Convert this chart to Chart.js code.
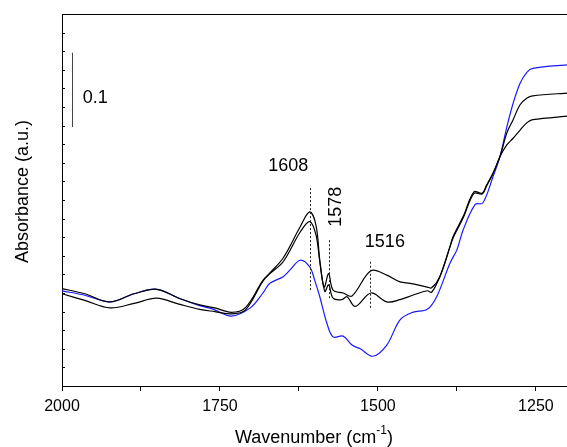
<!DOCTYPE html>
<html>
<head>
<meta charset="utf-8">
<script src="https://cdn.jsdelivr.net/npm/chart.js@4"></script>
<style>
    html, body { margin: 0; padding: 0; background: #fff; overflow: hidden; }
    #chart { display: block; }
</style>
</head>
<body>
<canvas id="chart" width="570" height="447"></canvas>
<script>
// FTIR spectra, wavenumber (cm-1) vs absorbance
const waveBlue = [2000, 1964, 1924, 1886, 1850, 1815, 1782, 1760, 1732, 1702, 1682, 1671, 1650, 1639, 1623, 1608, 1600, 1592, 1581, 1571, 1555, 1541, 1528, 1508, 1486, 1465, 1445, 1422, 1407, 1386, 1375, 1365, 1346, 1334, 1318, 1307, 1296, 1286, 1275, 1264, 1255, 1196];
const absBlue = [0.128, 0.122, 0.113, 0.124, 0.130, 0.118, 0.108, 0.103, 0.094, 0.105, 0.125, 0.138, 0.147, 0.156, 0.169, 0.160, 0.142, 0.120, 0.085, 0.066, 0.067, 0.055, 0.050, 0.040, 0.055, 0.089, 0.099, 0.103, 0.120, 0.165, 0.183, 0.210, 0.244, 0.246, 0.281, 0.308, 0.348, 0.380, 0.407, 0.422, 0.427, 0.432];

const waveA = [2000, 1964, 1924, 1886, 1850, 1815, 1782, 1758, 1732, 1710, 1682, 1671, 1650, 1623, 1608, 1598, 1592, 1585, 1578, 1571, 1555, 1541, 1511, 1486, 1465, 1449, 1422, 1415, 1402, 1386, 1381, 1365, 1348, 1335, 1328, 1318, 1307, 1296, 1286, 1275, 1264, 1255, 1196];
const absA = [0.131, 0.124, 0.113, 0.124, 0.130, 0.118, 0.109, 0.105, 0.099, 0.105, 0.142, 0.152, 0.172, 0.214, 0.234, 0.216, 0.169, 0.133, 0.151, 0.129, 0.125, 0.121, 0.155, 0.149, 0.140, 0.138, 0.133, 0.132, 0.147, 0.187, 0.201, 0.228, 0.261, 0.259, 0.270, 0.286, 0.308, 0.340, 0.358, 0.378, 0.387, 0.390, 0.394];

const waveB = [2000, 1964, 1924, 1886, 1850, 1815, 1782, 1758, 1732, 1710, 1682, 1671, 1650, 1623, 1608, 1598, 1592, 1584, 1578, 1571, 1557, 1549, 1536, 1511, 1486, 1465, 1445, 1422, 1415, 1402, 1386, 1381, 1365, 1348, 1335, 1328, 1318, 1307, 1296, 1286, 1275, 1264, 1255, 1196];
const absB = [0.124, 0.115, 0.105, 0.111, 0.118, 0.110, 0.103, 0.100, 0.097, 0.102, 0.141, 0.151, 0.167, 0.207, 0.221, 0.203, 0.167, 0.127, 0.136, 0.118, 0.116, 0.120, 0.107, 0.125, 0.113, 0.116, 0.122, 0.128, 0.126, 0.147, 0.187, 0.199, 0.226, 0.259, 0.258, 0.269, 0.285, 0.308, 0.324, 0.333, 0.344, 0.354, 0.358, 0.363];

const xTicks = [2000, 1875, 1750, 1625, 1500, 1375, 1250];
const xLabels = [2000, 1750, 1500, 1250];

// peak markers: label, where the dotted line sits, its y range
const peakLabels = ['1608', '1578', '1516'];
const peakWave = [1608, 1578, 1512];
const peakFrom = [0.127, 0.118, 0.104];
const peakTo = [0.266, 0.196, 0.167];

const FONT = '"Liberation Sans", Arial, sans-serif';

const pts = (xs, ys) => xs.map((x, i) => ({ x: x, y: ys[i] }));

const extras = {
    id: 'extras',
    afterDatasetsDraw(chart) {
        const { ctx, chartArea: a, scales: { x, y } } = chart;
        ctx.save();

        // frame top and right
        ctx.strokeStyle = '#000';
        ctx.lineWidth = 1;
        ctx.beginPath();
        ctx.moveTo(a.left, a.top + 0.5);
        ctx.lineTo(a.right, a.top + 0.5);
        ctx.lineTo(a.right, a.bottom);
        ctx.stroke();

        // inward minor ticks on y axis
        for (let v = 0; v <= 0.5001; v += 0.025) {
            const py = Math.round(y.getPixelForValue(v)) + 0.5;
            ctx.beginPath();
            ctx.moveTo(a.left, py);
            ctx.lineTo(a.left + 3, py);
            ctx.stroke();
        }

        // dotted peak lines
        ctx.strokeStyle = '#222';
        ctx.setLineDash([2, 2]);
        peakWave.forEach((w, i) => {
            const px = Math.round(x.getPixelForValue(w)) + 0.5;
            ctx.beginPath();
            ctx.moveTo(px, y.getPixelForValue(peakTo[i]));
            ctx.lineTo(px, y.getPixelForValue(peakFrom[i]));
            ctx.stroke();
        });
        ctx.setLineDash([]);

        ctx.fillStyle = '#000';
        ctx.font = '18px ' + FONT;
        ctx.textAlign = 'center';
        ctx.textBaseline = 'middle';
        ctx.fillText(peakLabels[0], x.getPixelForValue(1642), y.getPixelForValue(0.295));
        ctx.fillText(peakLabels[2], x.getPixelForValue(1489), y.getPixelForValue(0.194));
        ctx.save();
        ctx.translate(x.getPixelForValue(1566), y.getPixelForValue(0.241));
        ctx.rotate(-Math.PI / 2);
        ctx.fillText(peakLabels[1], 0, 0);
        ctx.restore();

        // 0.1 scale bar
        const bx = Math.round(x.getPixelForValue(1984)) + 0.5;
        ctx.strokeStyle = '#444';
        ctx.beginPath();
        ctx.moveTo(bx, y.getPixelForValue(0.448));
        ctx.lineTo(bx, y.getPixelForValue(0.348));
        ctx.stroke();
        ctx.textAlign = 'left';
        ctx.fillText('0.1', x.getPixelForValue(1967), y.getPixelForValue(0.387));

        // axis titles
        ctx.save();
        ctx.translate(23, 191.5);
        ctx.rotate(-Math.PI / 2);
        ctx.textAlign = 'center';
        ctx.fillText('Absorbance (a.u.)', 0, 0);
        ctx.restore();

        const main = 'Wavenumber (cm';
        const sup = '-1';
        const end = ')';
        ctx.font = '18px ' + FONT;
        const w1 = ctx.measureText(main).width;
        const w3 = ctx.measureText(end).width;
        ctx.font = '12px ' + FONT;
        const w2 = ctx.measureText(sup).width;
        let sx = 314 - (w1 + w2 + w3) / 2;
        ctx.textBaseline = 'alphabetic';
        ctx.font = '18px ' + FONT;
        ctx.fillText(main, sx, 443);
        ctx.font = '12px ' + FONT;
        ctx.fillText(sup, sx + w1, 434);
        ctx.font = '18px ' + FONT;
        ctx.fillText(end, sx + w1 + w2, 443);

        ctx.restore();
    }
};

new Chart(document.getElementById('chart'), {
    type: 'line',
    data: {
        datasets: [
            { data: pts(waveA, absA), borderColor: '#000', borderWidth: 1.2 },
            { data: pts(waveB, absB), borderColor: '#000', borderWidth: 1.2 },
            { data: pts(waveBlue, absBlue), borderColor: '#1a1aff', borderWidth: 1.2 }
        ]
    },
    options: {
        responsive: false,
        animation: false,
        parsing: false,
        elements: {
            point: { radius: 0 },
            line: { tension: 0.35, fill: false }
        },
        layout: { padding: { top: 14, left: 0, right: 0, bottom: 0 } },
        plugins: { legend: { display: false }, tooltip: { enabled: false } },
        scales: {
            x: {
                type: 'linear',
                reverse: true,
                min: 1196,
                max: 2000,
                afterBuildTicks: (s) => { s.ticks = xTicks.map(v => ({ value: v })); },
                afterFit: (s) => { s.height = 61; },
                ticks: {
                    autoSkip: false,
                    maxRotation: 0,
                    padding: 6,
                    color: '#000',
                    font: { family: FONT, size: 16 },
                    callback: (v) => xLabels.includes(v) ? String(v) : ''
                },
                grid: { drawOnChartArea: false, color: '#000', tickLength: 5 },
                border: { color: '#000', width: 1 }
            },
            y: {
                min: 0,
                max: 0.5,
                afterFit: (s) => { s.width = 62; },
                ticks: { display: false },
                grid: { drawOnChartArea: false, drawTicks: false },
                border: { color: '#000', width: 1 }
            }
        }
    },
    plugins: [extras]
});
</script>
</body>
</html>
